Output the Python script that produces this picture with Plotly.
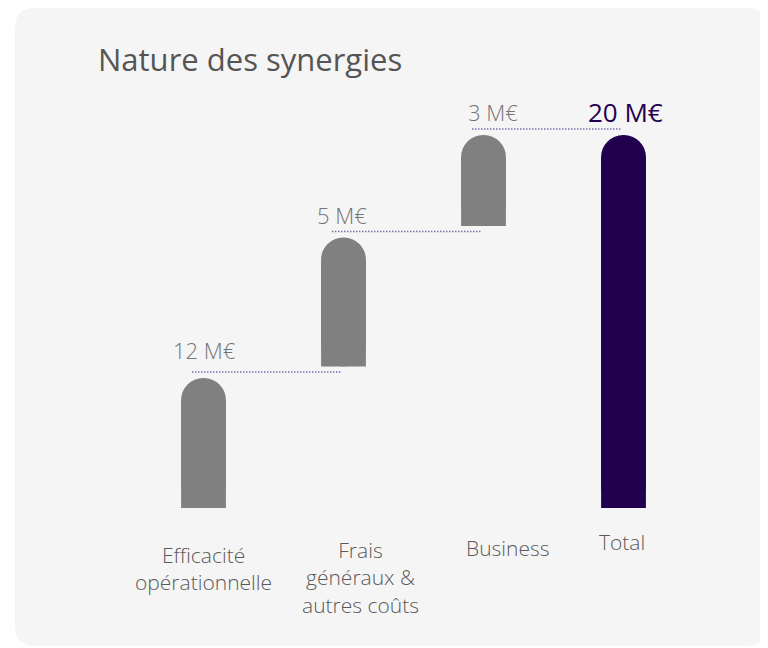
import plotly.graph_objects as go

# data
categories = ["Efficacité<br>opérationnelle", "Frais<br>généraux &<br>autres coûts", "Business", "Total"]
value_labels = ["12 M€", "5 M€", "3 M€", "20 M€"]
step_heights = [130, 129, 91]   # drawn height of each step (illustrative, not to scale)

GAP = 11.5
GREY = "#808080"
PURPLE = "#23004f"
FONT = "Open Sans"
W, H = 760, 640          # page adds an 8px body margin
BAR_W = 0.32
PX_PER_X = 140

# floating steps + total
bases, tops = [], []
level = 0
for h in step_heights:
    bases.append(level)
    tops.append(level + h)
    level = level + h + GAP
bases.append(0)
tops.append(tops[-1])
heights = [t - b for t, b in zip(tops, bases)]
colors = [GREY] * len(step_heights) + [PURPLE]
radius = BAR_W * PX_PER_X / 2

x = list(range(len(categories)))

fig = go.Figure()
# rounded bars
fig.add_trace(go.Bar(
    x=x, y=heights, base=bases, width=BAR_W,
    marker=dict(color=colors, line=dict(width=0), cornerradius="50%"),
    hoverinfo="skip", showlegend=False,
))
# square lower part, so only the top is rounded
fig.add_trace(go.Bar(
    x=x, y=[h - radius for h in heights], base=bases, width=BAR_W,
    marker=dict(color=colors, line=dict(width=0), cornerradius=0),
    hoverinfo="skip", showlegend=False,
))

# dotted connectors
for i in range(len(step_heights)):
    yc = tops[i] + 6
    fig.add_trace(go.Scatter(
        x=[i - 0.08, i + 0.98], y=[yc, yc], mode="lines",
        line=dict(color="#4a2a8c", width=1.5, dash="1px,2px"),
        hoverinfo="skip", showlegend=False,
    ))

# value labels
value_dx = [1, -2, 9, 2]
for i, lab in enumerate(value_labels):
    is_total = i == len(value_labels) - 1
    fig.add_annotation(
        x=i, y=tops[i], text=lab, showarrow=False, yanchor="middle",
        xshift=value_dx[i], yshift=28 if i == 0 else 23,
        font=dict(family=FONT, size=26 if is_total else 22, weight=400 if is_total else 300,
                  color=PURPLE if is_total else "#747474"),
    )

# category labels
label_shift = [(0, -31), (17, -26), (24, -24), (-2, -18)]
for i, cat in enumerate(categories):
    dx, dy = label_shift[i]
    fig.add_annotation(
        x=i, y=0, text=cat, showarrow=False, yanchor="top", xanchor="center",
        xshift=dx, yshift=dy, align="center",
        font=dict(family=FONT, size=21, weight=300, color="#5a5a5a"),
    )

# rounded card
x0, x1 = 7 / W, 758 / W
y0, y1 = 1 - 638 / H, 1.0
rx, ry = 20 / W, 20 / H
card = (f"M {x0 + rx} {y1} L {x1 - rx} {y1} Q {x1} {y1} {x1} {y1 - ry} "
        f"L {x1} {y0 + ry} Q {x1} {y0} {x1 - rx} {y0} "
        f"L {x0 + rx} {y0} Q {x0} {y0} {x0} {y0 + ry} "
        f"L {x0} {y1 - ry} Q {x0} {y1} {x0 + rx} {y1} Z")
fig.add_shape(type="path", path=card, xref="paper", yref="paper",
              fillcolor="#f5f5f5", line=dict(width=0), layer="below")

fig.update_layout(
    width=W, height=H,
    margin=dict(l=0, r=0, t=0, b=0),
    paper_bgcolor="white", plot_bgcolor="rgba(0,0,0,0)",
    barmode="overlay",
    title=dict(text="Nature des synergies", x=90 / W, xanchor="left", y=1 - 52 / H, yanchor="middle",
               font=dict(family=FONT, size=31, weight=400, color="#555555")),
    xaxis=dict(range=[-195.5 / PX_PER_X, (W - 195.5) / PX_PER_X], visible=False, fixedrange=True),
    yaxis=dict(range=[500 - H, 500], visible=False, fixedrange=True),
)

fig.write_html("out.html")
